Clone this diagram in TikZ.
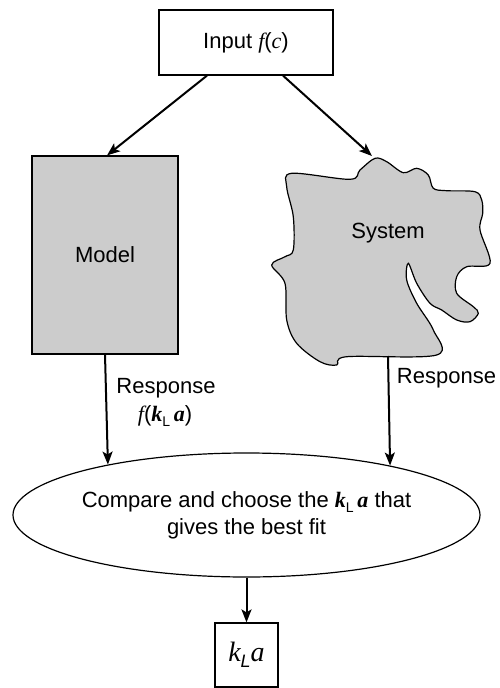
\documentclass[tikz,border=0pt]{standalone}
\usepackage{fontspec}
\setmainfont{Liberation Sans}
\newfontfamily\mserif{Liberation Serif}
\usetikzlibrary{shapes.geometric,arrows.meta}
\newcommand{\kLa}{{\mserif\bfseries\itshape k}\raisebox{-0.22em}{\fontsize{14}{14}\selectfont L}\,{\mserif\bfseries\itshape a}}
\begin{document}
\begin{tikzpicture}[x=1pt,y=-1pt,
  font=\fontsize{22}{27}\selectfont,
  box/.style={draw, line width=1.2pt, inner sep=0pt, align=center},
  arr/.style={line width=2pt, -{Stealth[length=13pt,width=10pt,inset=3pt]}},
  lbl/.style={inner sep=0pt, align=center}]
\useasboundingbox (0,0) rectangle (500,688);
\node[box, minimum width=174pt, minimum height=65pt] (in) at (246,42.5) {Input {\mserif\itshape f}({\mserif\itshape c})};
\node[box, fill=black!20, minimum width=146pt, minimum height=198pt] (model) at (105,255) {Model};
\draw[line width=1.2pt, fill=black!20] plot[smooth cycle, tension=0.55] coordinates {
 (291.7,173.3) (350,179.3) (360,170) (375,158.3) (386.7,161.7) (403.3,172.7)
 (416.7,168.3) (428.3,175) (433.3,188.3) (446.7,190.7) (475,191.7) (481.7,200)
 (482.7,213.3) (480,230) (490,263.3) (466.7,266.7) (456.7,276.7) (456.7,293.3)
 (473.3,306.7) (478.3,313.3) (470,321.7) (456.7,320) (441.7,310) (430,303.3)
 (416.7,283.3) (408.3,263.3) (406.7,280) (416.7,303.3) (433.3,330) (436.7,355)
 (346.7,356.7) (336.7,365) (320,361.7) (296.7,343.3) (286.7,320) (285,283.3)
 (271.7,265) (285,256.7) (293.3,250) (293.3,216.7) (286.7,186.7)};
\node[lbl] (sys) at (388,233) {System};
\coordinate (systop) at (372,156);
\coordinate (sysbot) at (388,356);
\node[draw, line width=1.2pt, ellipse, inner sep=0pt, minimum width=467pt, minimum height=124pt, align=center] (cmp) at (246.5,515) {Compare and choose the \kLa{} that\\gives the best fit};
\node[box, minimum width=63pt, minimum height=64pt] (kla) at (246.5,655) {\fontsize{28}{30}\selectfont{\mserif\itshape k}\raisebox{-0.2em}{\fontsize{18}{18}\selectfont\itshape L}{\mserif\itshape a}};
\node[lbl] (resp1) at (166,388) {Response};
\node[lbl] (resp1b) at (165,416) {{\mserif\itshape f}({\mserif\itshape\bfseries k}\raisebox{-0.22em}{\fontsize{14}{14}\selectfont L}\,{\mserif\bfseries\itshape a})};
\node[lbl] (resp2) at (446.5,378) {Response};
\draw[arr] ([xshift=-39pt]in.south) -- ([xshift=2pt]model.north);
\draw[arr] ([xshift=37pt]in.south) -- (systop);
\draw[arr] (model.south) -- (cmp.160.8);
\draw[arr] (sysbot) -- (cmp.19.2);
\draw[arr] (cmp.south) -- (kla.north);
\end{tikzpicture}
\end{document}
